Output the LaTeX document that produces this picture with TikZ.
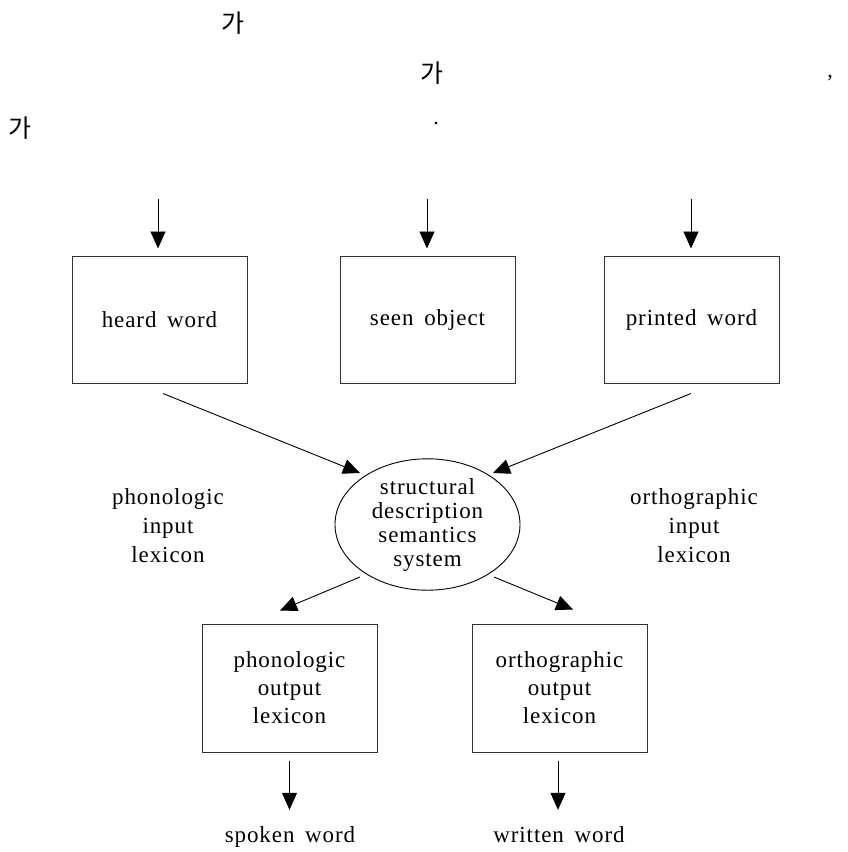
\documentclass[tikz,border=0pt]{standalone}
\usepackage{fontspec}
\setmainfont{Liberation Serif}[LetterSpace=4, WordSpace=1.6]
\newfontfamily\kr{Noto Sans CJK KR}
\usetikzlibrary{arrows.meta,shapes.geometric,calc}
\begin{document}
\begin{tikzpicture}[x=1pt,y=-1pt,
  lbl/.style={font=\fontsize{23}{29}\selectfont, align=center, inner sep=0pt},
  boxnode/.style={draw=black!80, line width=1pt, minimum width=175pt, minimum height=127pt, inner sep=0pt, font=\fontsize{23}{28}\selectfont, align=center},
  ellnode/.style={draw=black, line width=0.9pt, ellipse, minimum width=185pt, minimum height=125pt, inner sep=0pt, font=\fontsize{23}{24}\selectfont, align=center},
  arr/.style={-{Triangle[length=17pt,width=15pt]}, line width=0.9pt},
  kor/.style={font=\kr\fontsize{25}{25}\selectfont, inner sep=0pt},
  punct/.style={font=\fontsize{22}{22}\selectfont, inner sep=0pt}]
\useasboundingbox (0,0) rectangle (848,852);
% top text
\node[kor] (k1) at (233,23) {가};
\node[kor] (k2) at (432,73) {가};
\node[punct] (comma) at (830,78) {,};
\node[kor] (k3) at (20,128) {가};
\node[punct] (dot) at (436,124) {.};
% boxes
\node[boxnode] (heard) at (159.5,319.5) {heard word};
\node[boxnode] (seen) at (427.5,319.5) {seen object};
\node[boxnode] (printed) at (691.5,319.5) {printed word};
\node[ellnode] (sem) at (427.5,524.5) {structural\\description\\semantics\\system};
\node[lbl] (pil) at (168,526) {phonologic\\input\\lexicon};
\node[lbl] (oil) at (694,526) {orthographic\\input\\lexicon};
\node[boxnode, minimum height=128pt] (pol) at (289.5,688) {phonologic\\output\\lexicon};
\node[boxnode, minimum height=128pt] (ool) at (559.5,688) {orthographic\\output\\lexicon};
\node[lbl, anchor=base] (spoken) at (290,842) {spoken word};
\node[lbl, anchor=base] (written) at (559,842) {written word};
% input coordinates
\coordinate (in1) at (158,199);
\coordinate (in2) at (427,199);
\coordinate (in3) at (691,199);
% arrows
\draw[arr] (in1) -- ($(in1 |- heard.north)+(0,-7)$);
\draw[arr] (in2) -- ($(in2 |- seen.north)+(0,-7)$);
\draw[arr] (in3) -- ($(in3 |- printed.north)+(0,-7)$);
\draw[arr] ([shift={(3.5,10)}]heard.south) -- ([shift={(-67.5,-51.5)}]sem.center);
\draw[arr] ([shift={(-0.5,10)}]printed.south) -- ([shift={(65.5,-51.5)}]sem.center);
\draw[arr] ([shift={(-67.5,52.5)}]sem.center) -- ([shift={(-9.5,-13)}]pol.north);
\draw[arr] ([shift={(66.5,52.5)}]sem.center) -- ([shift={(13.5,-14)}]ool.north);
\draw[arr] ([shift={(0,8)}]pol.south) -- ($(pol.south |- spoken.north)+(0,-16)$);
\draw[arr] ([shift={(-1.5,8)}]ool.south) -- ($(ool.south |- written.north)+(-1.5,-16)$);
\end{tikzpicture}
\end{document}
